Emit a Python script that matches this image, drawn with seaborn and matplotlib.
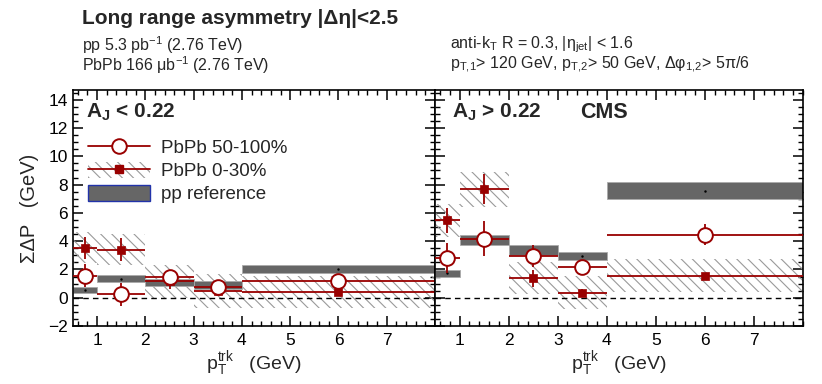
import numpy as np
import matplotlib
matplotlib.use("Agg")
import matplotlib.pyplot as plt
from matplotlib.patches import Patch
from matplotlib.lines import Line2D
from matplotlib.ticker import MultipleLocator
import seaborn as sns

sns.set_theme(style="ticks")
plt.rcParams['font.family'] = ['Liberation Sans', 'DejaVu Sans']
plt.rcParams['mathtext.default'] = 'regular'
plt.rcParams['hatch.linewidth'] = 0.8

# --- data: bins of track pT ---
bin_lo = [0.5, 1.0, 2.0, 3.0, 4.0]
bin_hi = [1.0, 2.0, 3.0, 4.0, 8.0]
pt_mark = [0.75, 1.5, 2.5, 3.5, 6.0]

# A_J < 0.22
pp_lo = [0.56, 1.35, 1.09, 0.90, 2.04]
pp_lo_err = [0.23, 0.26, 0.23, 0.26, 0.27]
c030_lo = [3.53, 3.41, 1.16, 0.46, 0.40]
c030_lo_stat = [0.80, 0.80, 0.55, 0.25, 0.10]
c030_lo_sys = [1.10, 1.12, 1.17, 1.22, 1.16]
c50_lo = [1.56, 0.23, 1.44, 0.74, 1.21]
c50_lo_stat = [0.80, 0.80, 0.40, 0.30, 0.10]

# A_J > 0.22
pp_hi = [1.72, 4.07, 3.39, 2.95, 7.57]
pp_hi_err = [0.27, 0.36, 0.36, 0.30, 0.59]
c030_hi = [5.48, 7.67, 1.39, 0.35, 1.56]
c030_hi_stat = [0.87, 1.05, 0.60, 0.30, 0.10]
c030_hi_sys = [1.17, 1.24, 1.13, 1.16, 1.16]
c50_hi = [2.83, 4.18, 2.95, 2.14, 4.46]
c50_hi_stat = [1.05, 1.24, 0.80, 0.40, 0.75]

RED = '#990000'
GRAY = '#666666'

fig = plt.figure(figsize=(8.22, 3.84), dpi=100)
ax1 = fig.add_axes([0.0888, 0.151, 0.4404, 0.615])
ax2 = fig.add_axes([0.5292, 0.151, 0.4477, 0.615])


def draw_panel(ax, pp, pp_err, c030, c030_stat, c030_sys, c50, c50_stat):
    lo = np.array(bin_lo)
    hi = np.array(bin_hi)
    width = hi - lo
    xerr = [np.array(pt_mark) - lo, hi - np.array(pt_mark)]
    # systematic boxes for 0-30%
    ax.bar(lo, 2 * np.array(c030_sys), width=width,
           bottom=np.array(c030) - np.array(c030_sys), align='edge',
           facecolor='none', edgecolor='#9a9a9a', hatch='\\\\\\', linewidth=0, zorder=1)
    # pp reference boxes
    ax.bar(lo, 2 * np.array(pp_err), width=width,
           bottom=np.array(pp) - np.array(pp_err), align='edge',
           color=GRAY, edgecolor='#aaaaaa', linewidth=0.6, zorder=2)
    ax.plot((lo + hi) / 2, pp, ls='none', marker='.', ms=1.5, color='black', zorder=3)
    ax.axhline(0, color='black', ls='--', lw=1, dashes=(4, 3), zorder=2.5)
    # PbPb points
    ax.errorbar(pt_mark, c030, xerr=xerr, yerr=c030_stat, fmt='none',
                ecolor=RED, elinewidth=1.3, zorder=4)
    ax.errorbar(pt_mark, c50, xerr=xerr, yerr=c50_stat, fmt='none',
                ecolor=RED, elinewidth=1.3, zorder=4)
    sns.scatterplot(x=pt_mark, y=c030, marker='s', s=28, color=RED,
                    edgecolor=RED, linewidth=0.5, ax=ax, zorder=5)
    sns.scatterplot(x=pt_mark, y=c50, marker='o', s=112, facecolor='white',
                    edgecolor=RED, linewidth=1.4, ax=ax, zorder=5)

    ax.set_xlim(0.5, 8)
    ax.set_ylim(-2, 14.7)
    ax.xaxis.set_major_locator(MultipleLocator(1))
    ax.xaxis.set_minor_locator(MultipleLocator(0.2))
    ax.yaxis.set_major_locator(MultipleLocator(2))
    ax.yaxis.set_minor_locator(MultipleLocator(0.5))
    ax.tick_params(which='both', direction='in', top=True, right=True,
                   width=1.1, color='black', labelsize=12.5, labelcolor='black')
    ax.tick_params(which='major', length=7)
    ax.tick_params(which='minor', length=3.5, width=1)
    ax.tick_params(axis='x', which='major', pad=5)
    ax.set_xticks([1, 2, 3, 4, 5, 6, 7])
    for s in ax.spines.values():
        s.set_color('black')
        s.set_linewidth(1.2)
    ax.set_xlabel(r'$p_{T}^{trk}$   (GeV)', fontsize=14, labelpad=1)
    ax.grid(False)


draw_panel(ax1, pp_lo, pp_lo_err, c030_lo, c030_lo_stat, c030_lo_sys, c50_lo, c50_lo_stat)
draw_panel(ax2, pp_hi, pp_hi_err, c030_hi, c030_hi_stat, c030_hi_sys, c50_hi, c50_hi_stat)
ax2.tick_params(labelleft=False)
ax1.set_ylabel('ΣΔP   (GeV)', fontsize=14.5, labelpad=7)

ax1.text(0.035, 0.95, r'$A_{J}$ < 0.22', transform=ax1.transAxes, fontsize=15,
         fontweight='bold', va='top')
ax2.text(0.045, 0.95, r'$A_{J}$ > 0.22', transform=ax2.transAxes, fontsize=15,
         fontweight='bold', va='top')
ax2.text(0.394, 0.95, 'CMS', transform=ax2.transAxes, fontsize=15.5,
         fontweight='bold', va='top')

# legend
h50 = Line2D([], [], color=RED, lw=1.3, marker='o', ms=10.5, mfc='white', mec=RED, mew=1.4)
h030 = (Patch(facecolor='none', edgecolor='#9a9a9a', hatch='\\\\\\', linewidth=0),
        Line2D([], [], color=RED, lw=1.3, marker='s', ms=5.5, mfc=RED, mec=RED))
hpp = Patch(facecolor=GRAY, edgecolor='#2233aa', linewidth=1)
ax1.legend([h50, h030, hpp], ['PbPb 50-100%', 'PbPb 0-30%', 'pp reference'],
           loc='upper left', bbox_to_anchor=(0.0, 0.855), frameon=False,
           fontsize=13.5, handlelength=3.3, handleheight=0.9, labelspacing=0.25,
           handletextpad=0.6, borderpad=0.3)

# header texts
fig.text(0.0998, 0.953, 'Long range asymmetry |Δη|<2.5', fontsize=15, fontweight='bold',
         va='center')
fig.text(0.0998, 0.883, r'pp 5.3 pb$^{-1}$ (2.76 TeV)', fontsize=11.5, va='center')
fig.text(0.0998, 0.830, r'PbPb 166 μb$^{-1}$ (2.76 TeV)', fontsize=11.5, va='center')
fig.text(0.547, 0.883, r'anti-k$_{T}$ R = 0.3, |η$_{jet}$| < 1.6', fontsize=11.5, va='center')
fig.text(0.547, 0.830, r'p$_{T{,}1}$> 120 GeV, p$_{T{,}2}$> 50 GeV, Δφ$_{1{,}2}$> 5π/6',
         fontsize=11.5, va='center')

fig.savefig('out.png', dpi=100)
